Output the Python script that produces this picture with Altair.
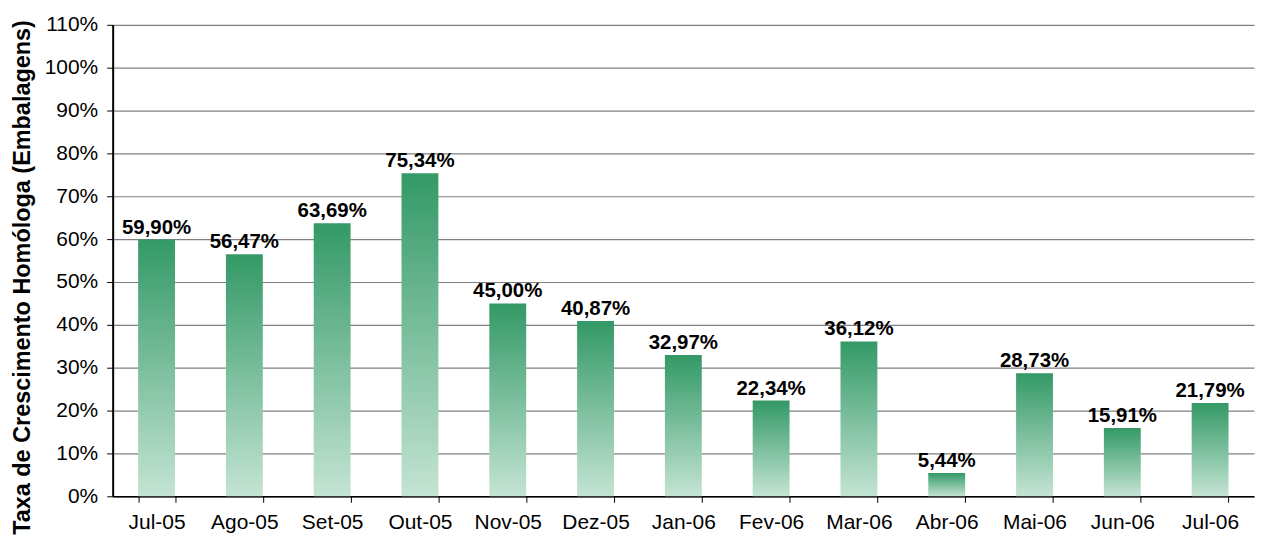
import altair as alt
import pandas as pd

months = ["Jul-05", "Ago-05", "Set-05", "Out-05", "Nov-05", "Dez-05", "Jan-06",
          "Fev-06", "Mar-06", "Abr-06", "Mai-06", "Jun-06", "Jul-06"]
values = [59.90, 56.47, 63.69, 75.34, 45.00, 40.87, 32.97, 22.34, 36.12, 5.44, 28.73, 15.91, 21.79]
y_ticks = [0, 10, 20, 30, 40, 50, 60, 70, 80, 90, 100, 110]

df = pd.DataFrame({"mes": months, "valor": values})
df["rotulo"] = [f"{v:.2f}%".replace(".", ",") for v in values]

FONT = "Liberation Sans"

x_enc = alt.X("mes:N", sort=months, title=None,
              scale=alt.Scale(paddingInner=0.58, paddingOuter=0.29),
              axis=alt.Axis(labelAngle=0, labelFontSize=21, labelFont=FONT, labelColor="black",
                            labelPadding=9, tickBand="extent", tickSize=6, tickColor="black",
                            domainColor="black", domainWidth=1.5, grid=False))
y_enc = alt.Y("valor:Q",
              scale=alt.Scale(domain=[0, 110], nice=False),
              title="Taxa de Crescimento Homóloga (Embalagens)",
              axis=alt.Axis(values=y_ticks, labelExpr="datum.value + '%'",
                            labelFontSize=21, labelFont=FONT, labelColor="black",
                            labelPadding=9,
                            tickSize=6, tickColor="black", domainColor="black", domainWidth=2,
                            gridColor="#808080", gridWidth=1.2,
                            titleFont=FONT, titleFontSize=23.5, titleFontWeight="bold",
                            titleColor="black", titleX=-90, titleY=253,
                            titleAngle=-90, titleBaseline="middle", titleAlign="center"))

bars = alt.Chart(df).mark_bar(
    color=alt.Gradient(gradient="linear",
                       stops=[alt.GradientStop(color="#339966", offset=0),
                              alt.GradientStop(color="#c4e4d4", offset=1)],
                       x1=0, x2=0, y1=0, y2=1)
).encode(x=x_enc, y=y_enc)

labels = alt.Chart(df).mark_text(
    font=FONT, fontSize=20.5, fontWeight="bold", color="black", baseline="bottom", dy=-2
).encode(x=alt.X("mes:N", sort=months), y=alt.Y("valor:Q"), text="rotulo:N")

chart = (bars + labels).properties(
    width=1145, height=473,
    autosize=alt.AutoSizeParams(type="none"),
    padding={"left": 105, "top": 16, "right": 2, "bottom": 46},
).configure_view(stroke=None)

chart.save("out.html", embed_options={"renderer": "svg", "actions": False})
